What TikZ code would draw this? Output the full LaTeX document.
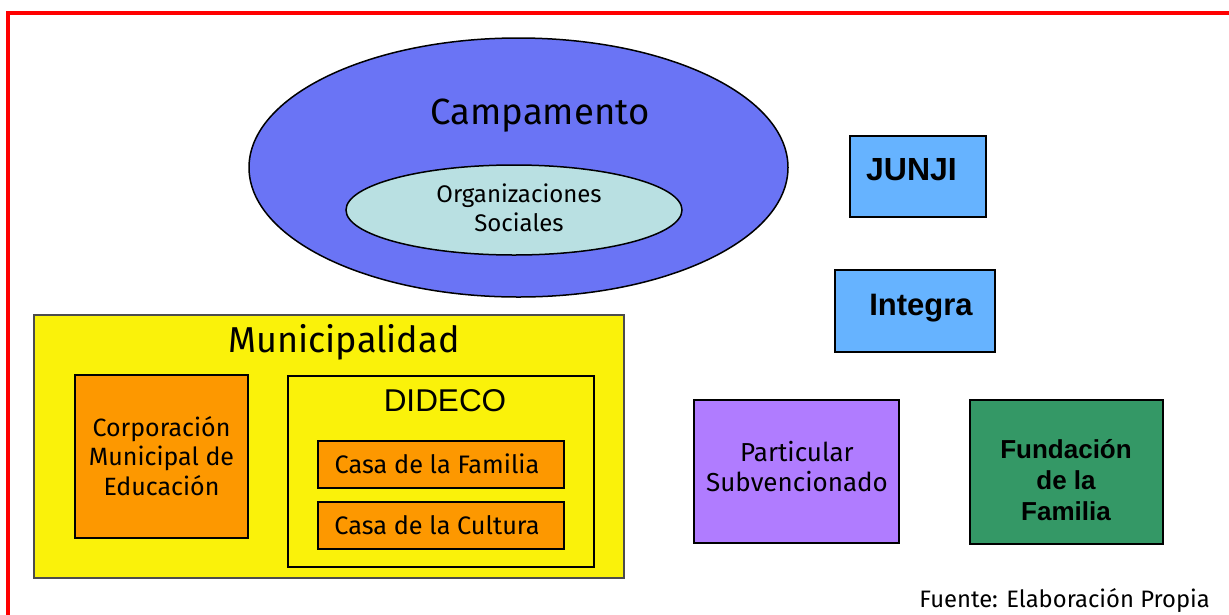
\documentclass[tikz,border=0pt]{standalone}
\usepackage{fontspec}
\setmainfont{Fira Sans}
\newfontfamily\arialfont{Liberation Sans}
\usetikzlibrary{shapes.geometric}
\definecolor{redline}{RGB}{255,0,0}
\definecolor{campblue}{RGB}{106,116,245}
\definecolor{orgcyan}{RGB}{185,224,226}
\definecolor{muniyellow}{RGB}{250,242,10}
\definecolor{boxorange}{RGB}{253,152,0}
\definecolor{lightblue}{RGB}{102,179,255}
\definecolor{lilac}{RGB}{176,124,255}
\definecolor{fundgreen}{RGB}{52,152,102}
\tikzset{
  box/.style={draw=black, inner sep=0pt, line width=1.6pt},
  thickbox/.style={draw=black, inner sep=0pt, line width=2.8pt, fill=boxorange},
  txt/.style={inner sep=0pt, align=center, text=black},
}
\begin{document}
\begin{tikzpicture}[x=1pt,y=-1pt]
\useasboundingbox (0,0) rectangle (1229,614);
\fill[white] (0,0) rectangle (1229,614);
% red frame
\coordinate (fTR) at (1232,13);
\coordinate (fTL) at (8,13);
\coordinate (fBL) at (8,618);
\draw[redline, line width=4.5pt] (fTR) -- (fTL) -- (fBL);

% Campamento
\node[ellipse, draw=black, line width=1.5pt, fill=campblue, minimum width=539pt, minimum height=259pt, inner sep=0pt] (camp) at (518.5,167.5) {};
\node[txt, font=\fontsize{36.5}{40}\selectfont] (campT) at (540,116) {Campamento};
\node[ellipse, draw=black, line width=1.5pt, fill=orgcyan, minimum width=336pt, minimum height=90pt, inner sep=0pt] (org) at (514,210) {};
\node[txt, font=\fontsize{24}{29}\selectfont] (orgT) at (519,208) {Organizaciones\\Sociales};

% Municipalidad
\node[box, fill=muniyellow, draw=black!70, line width=1.8pt, minimum width=590pt, minimum height=263pt] (muni) at (329,446.5) {};
\node[txt, font=\fontsize{36}{40}\selectfont] (muniT) at (344,342) {Municipalidad};
\node[thickbox, minimum width=173pt, minimum height=163pt] (corp) at (161.5,456.5) {};
\node[txt, font=\fontsize{25}{29.5}\selectfont] (corpT) at (161.5,456) {Corporación\\Municipal de\\Educación};
\node[box, fill=muniyellow, line width=1.3pt, minimum width=306pt, minimum height=191pt] (dideco) at (441,471.5) {};
\node[txt, font=\arialfont\fontsize{31.5}{36}\selectfont] (didecoT) at (445,401) {DIDECO};
\node[thickbox, minimum width=246pt, minimum height=47pt] (casaF) at (441,464.5) {};
\node[txt, font=\fontsize{25.3}{30}\selectfont] (casaFT) at (437,464) {Casa de la Familia};
\node[thickbox, minimum width=246pt, minimum height=47pt] (casaC) at (441,525.5) {};
\node[txt, font=\fontsize{25.3}{30}\selectfont] (casaCT) at (437,525) {Casa de la Cultura};

% right column
\node[box, fill=lightblue, minimum width=136pt, minimum height=81pt] (junji) at (918,176.5) {};
\node[txt, font=\arialfont\bfseries\fontsize{32}{36}\selectfont] (junjiT) at (911.5,170) {JUNJI};
\node[box, fill=lightblue, minimum width=160pt, minimum height=82pt] (integra) at (915,311) {};
\node[txt, font=\arialfont\bfseries\fontsize{31}{36}\selectfont] (integraT) at (921,308) {Integra};
\node[box, fill=lilac, minimum width=205pt, minimum height=143pt] (partic) at (796.5,471.5) {};
\node[txt, font=\fontsize{26}{30}\selectfont] (particT) at (797,467) {Particular\\Subvencionado};
\node[box, fill=fundgreen, minimum width=193pt, minimum height=144pt] (fund) at (1066.5,472) {};
\node[txt, font=\arialfont\bfseries\fontsize{26}{31}\selectfont] (fundT) at (1066,480) {Fundación\\de la\\Familia};

% source
\node[txt, anchor=east, font=\fontsize{23.8}{27}\selectfont] (src) at (1210,600) {Fuente: Elaboración Propia};
\end{tikzpicture}
\end{document}
